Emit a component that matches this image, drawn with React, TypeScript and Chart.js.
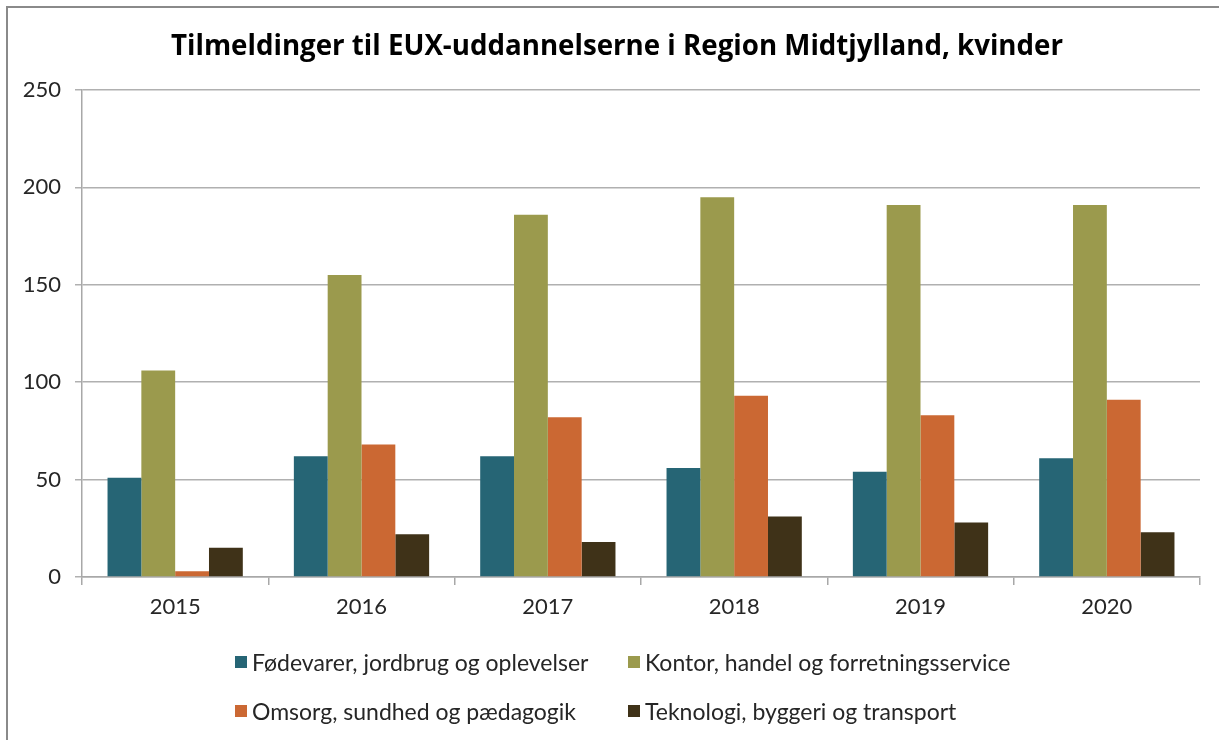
import React, { useEffect, useRef } from "react";
import { Chart, registerables } from "chart.js";

Chart.register(...registerables);

const TITLE = "Tilmeldinger til EUX-uddannelserne i Region Midtjylland, kvinder";
const years = ["2015", "2016", "2017", "2018", "2019", "2020"];
const seriesNames = [
  "Fødevarer, jordbrug og oplevelser",
  "Kontor, handel og forretningsservice",
  "Omsorg, sundhed og pædagogik",
  "Teknologi, byggeri og transport",
];
const foedevarer = [51, 62, 62, 56, 54, 61];
const kontor = [106, 155, 186, 195, 191, 191];
const omsorg = [3, 68, 82, 93, 83, 91];
const teknologi = [15, 22, 18, 31, 28, 23];
const seriesColors = ["#266575", "#9B9A4D", "#CB6833", "#3F3218"];
const yTicks = [0, 50, 100, 150, 200, 250];

const FONT = "Lato, 'Open Sans', sans-serif";
const TITLE_FONT = "'Open Sans', Lato, sans-serif";

export default function App() {
  const ref = useRef<HTMLCanvasElement | null>(null);

  useEffect(() => {
    if (!ref.current) return;
    const values = [foedevarer, kontor, omsorg, teknologi];
    const chart = new Chart(ref.current, {
      type: "bar",
      data: {
        labels: years,
        datasets: seriesNames.map((name, i) => ({
          label: name,
          data: values[i],
          backgroundColor: seriesColors[i],
          borderWidth: 0,
          categoryPercentage: 0.726,
          barPercentage: 1,
        })),
      },
      options: {
        animation: false,
        responsive: false,
        maintainAspectRatio: false,
        layout: { padding: { left: 0, right: 19, top: 90, bottom: 0 } },
        plugins: {
          legend: { display: false },
          tooltip: { enabled: false },
          title: { display: false },
        },
        scales: {
          x: {
            grid: {
              drawOnChartArea: false,
              drawTicks: true,
              tickLength: 8,
              offset: true,
              color: "#a8a8a8",
              lineWidth: 1.5,
            },
            border: { display: true, color: "#a8a8a8", width: 1.5 },
            ticks: {
              color: "#262626",
              font: { family: FONT, size: 22 },
              padding: 9,
            },
            afterFit: (s: any) => {
              s.height = 163;
            },
          },
          y: {
            min: 0,
            max: 250,
            afterBuildTicks: (s: any) => {
              s.ticks = yTicks.map((v) => ({ value: v }));
            },
            grid: {
              drawOnChartArea: true,
              drawTicks: true,
              tickLength: 7,
              color: "#b0b0b0",
              lineWidth: 1.5,
            },
            border: { display: true, color: "#a8a8a8", width: 1.5 },
            ticks: {
              color: "#262626",
              font: { family: FONT, size: 22 },
              padding: 14,
            },
            afterFit: (s: any) => {
              s.width = 82;
            },
          },
        },
      },
    });
    return () => chart.destroy();
  }, []);

  const legendItem = (i: number, left: number, top: number) => (
    <div
      key={i}
      style={{
        position: "absolute",
        left,
        top: top - 14,
        height: 28,
        display: "flex",
        alignItems: "center",
        whiteSpace: "nowrap",
        fontFamily: FONT,
        fontSize: 23,
        color: "#262626",
      }}
    >
      <span
        style={{
          display: "inline-block",
          width: 12,
          height: 12,
          background: seriesColors[i],
          marginRight: 5,
        }}
      />
      <span>{seriesNames[i]}</span>
    </div>
  );

  return (
    <div
      style={{
        position: "absolute",
        left: 0,
        top: 0,
        width: 1219,
        height: 740,
        overflow: "hidden",
        background: "#ffffff",
      }}
    >
      <canvas ref={ref} width={1219} height={740} style={{ position: "absolute", left: 0, top: 0 }} />
      <div
        style={{
          position: "absolute",
          left: 6,
          top: 6,
          width: 1300,
          height: 800,
          border: "2px solid #8a8a8a",
          pointerEvents: "none",
        }}
      />
      <div
        style={{
          position: "absolute",
          left: 0,
          top: 24,
          width: 1234,
          height: 40,
          lineHeight: "40px",
          textAlign: "center",
          fontFamily: TITLE_FONT,
          fontWeight: "bold",
          fontSize: 27.7,
          color: "#000000",
          whiteSpace: "nowrap",
        }}
      >
        {TITLE}
      </div>
      {legendItem(0, 235, 662)}
      {legendItem(1, 628, 662)}
      {legendItem(2, 235, 711)}
      {legendItem(3, 628, 711)}
    </div>
  );
}
